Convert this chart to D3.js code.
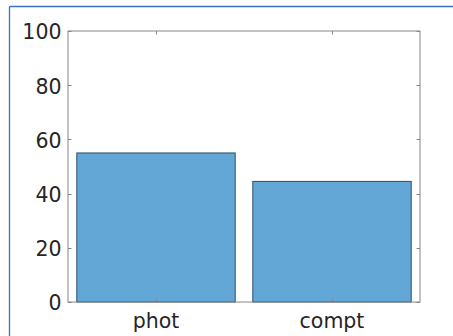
<!DOCTYPE html>
<html><head><meta charset="utf-8">
<script src="https://cdn.jsdelivr.net/npm/d3@7"></script>
<style>body{margin:0;background:#fff;}svg{display:block;}</style>
</head><body>
<script>
const categories = ["phot", "compt"];
const values = [55.0, 44.5];
const yTicks = [0, 20, 40, 60, 80, 100];

const W = 453, H = 336;
const m = {left: 68, top: 31, right: 420, bottom: 302};
const svg = d3.select("body").append("svg").attr("width", W).attr("height", H);

// frame border
svg.append("line").attr("x1", 9.5).attr("x2", W).attr("y1", 6.5).attr("y2", 6.5)
  .attr("stroke", "#3a72c0").attr("stroke-width", 1.3);
svg.append("line").attr("x1", 9.5).attr("x2", 9.5).attr("y1", 6.5).attr("y2", H)
  .attr("stroke", "#3a72c0").attr("stroke-width", 1.3);

const x = d3.scaleLinear().domain([0.5, categories.length + 0.5]).range([m.left, m.right]);
const y = d3.scaleLinear().domain([0, 100]).range([m.bottom, m.top]);
const bw = (x(1.45) - x(0.55));

svg.selectAll("rect.bar").data(values).enter().append("rect")
  .attr("class", "bar")
  .attr("x", (d, i) => x(i + 1) - bw / 2)
  .attr("width", bw)
  .attr("y", d => y(d))
  .attr("height", d => y(0) - y(d))
  .attr("fill", "#63a7d6")
  .attr("stroke", "#2d4f6c")
  .attr("stroke-width", 1);

const axisColor = "#858585", textColor = "#262626";
const tl = 3.5;
const fs = 20.5;
const g = svg.append("g");
// box
g.append("rect").attr("x", m.left).attr("y", m.top)
  .attr("width", m.right - m.left).attr("height", m.bottom - m.top)
  .attr("fill", "none").attr("stroke", axisColor).attr("stroke-width", 1);

// y ticks
yTicks.forEach(t => {
  const yy = Math.round(y(t)) + 0.5;
  g.append("line").attr("x1", m.left).attr("x2", m.left + tl).attr("y1", yy).attr("y2", yy)
    .attr("stroke", axisColor);
  g.append("line").attr("x1", m.right).attr("x2", m.right - tl).attr("y1", yy).attr("y2", yy)
    .attr("stroke", axisColor);
  g.append("text").attr("x", 61.5).attr("y", y(t) + 1).attr("dy", "0.36em")
    .attr("text-anchor", "end").attr("font-family", "DejaVu Sans").attr("font-size", fs)
    .attr("fill", textColor).text(t);
});
// x ticks
categories.forEach((c, i) => {
  const xx = Math.round(x(i + 1)) + 0.5;
  g.append("line").attr("x1", xx).attr("x2", xx).attr("y1", m.bottom).attr("y2", m.bottom - tl)
    .attr("stroke", axisColor);
  g.append("line").attr("x1", xx).attr("x2", xx).attr("y1", m.top).attr("y2", m.top + tl)
    .attr("stroke", axisColor);
  g.append("text").attr("x", x(i + 1)).attr("y", 328)
    .attr("text-anchor", "middle").attr("font-family", "DejaVu Sans").attr("font-size", fs)
    .attr("fill", textColor).text(c);
});
</script>
</body></html>
